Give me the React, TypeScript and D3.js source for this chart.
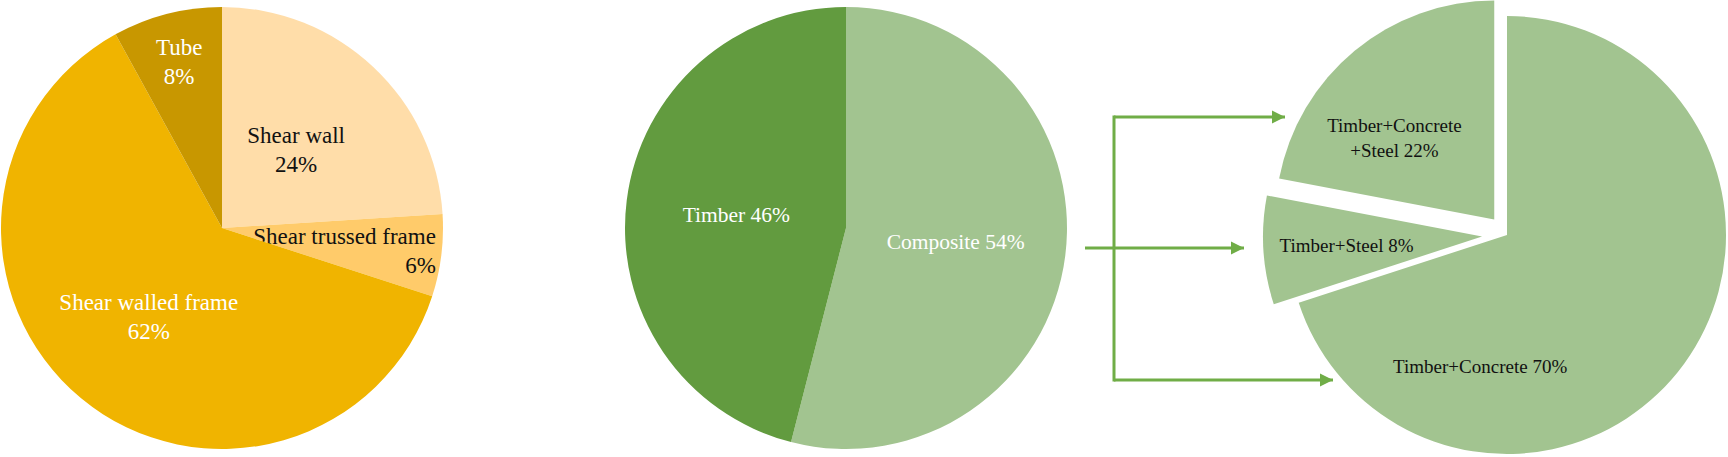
import * as d3 from 'd3'

// structural system share
const structureLabels = ['Shear wall', 'Shear trussed frame', 'Shear walled frame', 'Tube']
const structureValues = [24, 6, 62, 8]
// material share
const materialLabels = ['Composite', 'Timber']
const materialValues = [54, 46]
// composite breakdown
const compositeLabels = ['Timber+Concrete', 'Timber+Steel', 'Timber+Concrete+Steel']
const compositeValues = [70, 8, 22]

const W = 1728
const H = 457
const FONT = "'Palatino Linotype', 'Book Antiqua', Palatino, 'Liberation Serif', serif"
const ARROW = '#70ad47'

interface LabelSpec {
  k: number // distance from vertex as fraction of radius
  angle?: number // degrees clockwise from 12 o'clock, overrides slice mid angle
  anchor?: 'start' | 'middle' | 'end'
  color: string
  lines: string[]
}

interface PieSpec {
  cx: number
  cy: number
  r: number
  values: number[]
  colors: string[]
  explode: number[]
  fontSize: number
  lineGap: number
  labels: LabelSpec[]
}

const pct = (v: number) => `${v}%`

const pies: PieSpec[] = [
  {
    cx: 222, cy: 228, r: 221,
    values: structureValues,
    colors: ['#ffdda9', '#ffcb6a', '#f0b400', '#c89700'],
    explode: [0, 0, 0, 0],
    fontSize: 23,
    lineGap: 29,
    labels: [
      { k: 0.49, color: '#111', lines: [structureLabels[0], pct(structureValues[0])] },
      { k: 0.973, angle: 95.9, anchor: 'end', color: '#111', lines: [structureLabels[1], pct(structureValues[1])] },
      { k: 0.52, color: '#fff', lines: [structureLabels[2], pct(structureValues[2])] },
      { k: 0.78, color: '#fff', lines: [structureLabels[3], pct(structureValues[3])] },
    ],
  },
  {
    cx: 846, cy: 228, r: 221,
    values: materialValues,
    colors: ['#a2c490', '#629b3f'],
    explode: [0, 0],
    fontSize: 21.5,
    lineGap: 26,
    labels: materialLabels.map((l, i) => ({ k: 0.5, color: '#fff', lines: [`${l} ${pct(materialValues[i])}`] })),
  },
  {
    cx: 1507, cy: 235, r: 219,
    values: compositeValues,
    colors: ['#a2c490', '#a2c490', '#a2c490'],
    explode: [0, 25, 20],
    fontSize: 19,
    lineGap: 25,
    labels: [
      { k: 0.61, angle: 191.6, color: '#111', lines: [`${compositeLabels[0]} ${pct(compositeValues[0])}`] },
      { k: 0.62, color: '#111', lines: [`${compositeLabels[1]} ${pct(compositeValues[1])}`] },
      { k: 0.59, angle: 309.4, color: '#111', lines: ['Timber+Concrete', `+Steel ${pct(compositeValues[2])}`] },
    ],
  },
]

// connector from the composite slice to the breakdown pie
const arrowTrunkX = 1114
const arrows = [
  { x0: 1114, x1: 1285, y: 117 },
  { x0: 1085, x1: 1244, y: 248 },
  { x0: 1114, x1: 1333, y: 380 },
]

function Pie({ spec }: { spec: PieSpec }) {
  const arcs = d3.pie<number>().sort(null).startAngle(0).endAngle(2 * Math.PI)(spec.values)
  const arc = d3.arc<d3.PieArcDatum<number>>().innerRadius(0).outerRadius(spec.r)
  return (
    <g transform={`translate(${spec.cx},${spec.cy})`}>
      {arcs.map((a, i) => {
        const mid = (a.startAngle + a.endAngle) / 2
        const off = spec.explode[i]
        const ox = Math.sin(mid) * off
        const oy = -Math.cos(mid) * off
        const lab = spec.labels[i]
        const la = lab.angle !== undefined ? (lab.angle * Math.PI) / 180 : mid
        const lx = ox + Math.sin(la) * lab.k * spec.r
        const ly = oy - Math.cos(la) * lab.k * spec.r
        const n = lab.lines.length
        return (
          <g key={i}>
            <path d={arc(a) || ''} transform={`translate(${ox},${oy})`} fill={spec.colors[i]} />
            <text
              x={lx}
              y={ly}
              fill={lab.color}
              fontSize={spec.fontSize}
              fontFamily={FONT}
              textAnchor={lab.anchor || 'middle'}
            >
              {lab.lines.map((t, j) => (
                <tspan key={j} x={lx} y={ly + (j - (n - 1) / 2) * spec.lineGap} dy="0.35em">
                  {t}
                </tspan>
              ))}
            </text>
          </g>
        )
      })}
    </g>
  )
}

export default function App() {
  const top = d3.min(arrows, (a) => a.y) as number
  const bottom = d3.max(arrows, (a) => a.y) as number
  return (
    <svg
      width={W}
      height={H}
      viewBox={`0 0 ${W} ${H}`}
      style={{ position: 'absolute', left: 0, top: 0, background: '#fff' }}
    >
      <defs>
        <marker id="head" viewBox="0 0 10 10" refX="10" refY="5" markerWidth="4.5" markerHeight="4.5" orient="auto" markerUnits="strokeWidth">
          <path d="M0,0 L10,5 L0,10 Z" fill={ARROW} />
        </marker>
      </defs>
      {pies.map((p, i) => (
        <Pie key={i} spec={p} />
      ))}
      <g stroke={ARROW} strokeWidth={3} fill="none">
        <line x1={arrowTrunkX} x2={arrowTrunkX} y1={top - 1.5} y2={bottom + 1.5} />
        {arrows.map((a, i) => (
          <line key={i} x1={a.x0} x2={a.x1} y1={a.y} y2={a.y} markerEnd="url(#head)" />
        ))}
      </g>
    </svg>
  )
}
